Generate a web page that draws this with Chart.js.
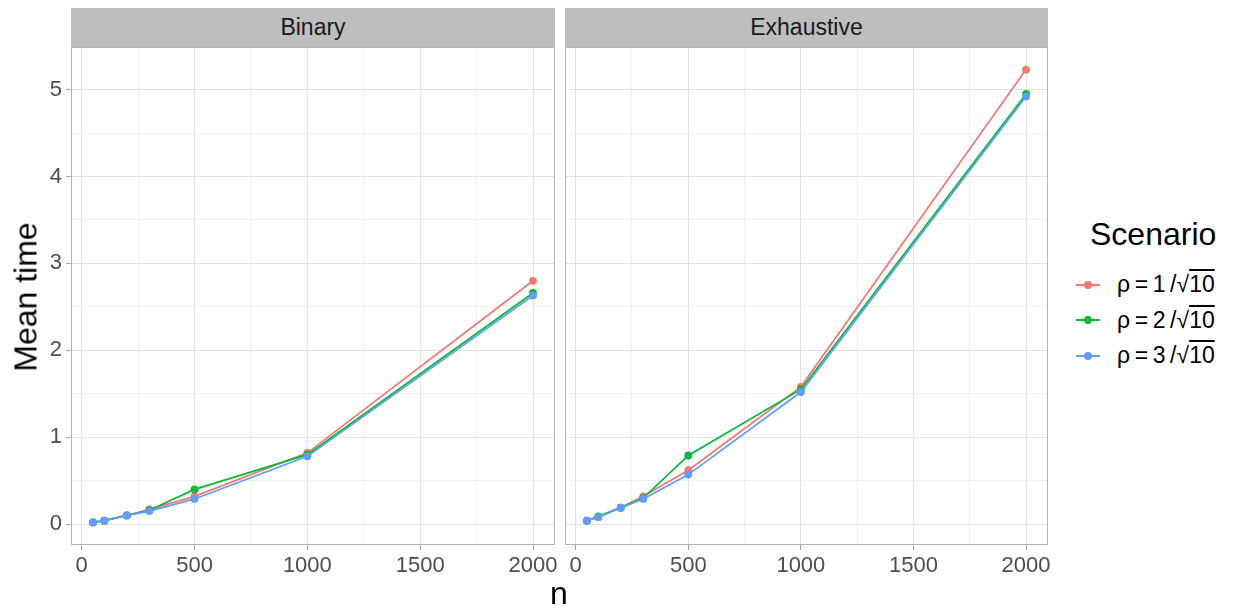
<!DOCTYPE html>
<html>
<head>
<meta charset="utf-8">
<script src="https://cdn.jsdelivr.net/npm/chart.js@4"></script>
<style>
  body { margin: 0; background: #fff; font-family: "Liberation Sans", Arial, sans-serif; }
  #wrap { position: relative; width: 1244px; height: 609px; overflow: hidden; }
  canvas { position: absolute; }
  .strip { position: absolute; top: 8px; height: 39px; background: #bebebe; color: #1a1a1a;
           font-size: 23px; line-height: 39px; text-align: center; }
  .title { position: absolute; color: #000; font-size: 32px; }
  #legend { position: absolute; left: 1072px; top: 216px; color: #000; }
  #legend .head { font-size: 32px; margin: 0 0 14px 18px; }
  #legend .item { display: flex; align-items: center; height: 35.5px; font-size: 23px; }
  #legend .key { position: relative; width: 28px; height: 20px; margin-right: 17px; }
  #legend .key i { position: absolute; left: 4px; right: 0; top: 9px; height: 2px; }
  #legend .key b { position: absolute; left: 12px; top: 6px; width: 8px; height: 8px; border-radius: 50%; }
  .ov { text-decoration: overline; }
</style>
</head>
<body>
<div id="wrap">
  <div class="strip" style="left:71px;width:484px;">Binary</div>
  <div class="strip" style="left:565px;width:483px;">Exhaustive</div>
  <canvas id="binary" width="560" height="540" style="left:0;top:47px;"></canvas>
  <canvas id="exhaustive" width="497" height="540" style="left:565px;top:47px;"></canvas>
  <div class="title" style="left:559px;top:575px;transform:translateX(-50%);">n</div>
  <div class="title" style="left:26px;top:297px;transform:translate(-50%,-50%) rotate(-90deg);white-space:nowrap;">Mean time</div>
  <div id="legend"></div>
</div>
<script>
const nValues = [50, 100, 200, 300, 500, 1000, 2000];
const scenarios = ['ρ = 1/√10', 'ρ = 2/√10', 'ρ = 3/√10'];
const colors = ['#F8766D', '#00BA38', '#619CFF'];

// Binary panel
const binaryRho1 = [0.02, 0.04, 0.10, 0.17, 0.32, 0.82, 2.80];
const binaryRho2 = [0.02, 0.04, 0.10, 0.16, 0.40, 0.80, 2.66];
const binaryRho3 = [0.02, 0.04, 0.10, 0.15, 0.29, 0.78, 2.63];

// Exhaustive panel
const exhaustRho1 = [0.04, 0.08, 0.19, 0.32, 0.62, 1.58, 5.23];
const exhaustRho2 = [0.04, 0.09, 0.19, 0.30, 0.79, 1.55, 4.95];
const exhaustRho3 = [0.04, 0.08, 0.19, 0.29, 0.57, 1.52, 4.92];

const xTicks = [0, 250, 500, 750, 1000, 1250, 1500, 1750, 2000];
const yTicks = [0, 0.5, 1, 1.5, 2, 2.5, 3, 3.5, 4, 4.5, 5];

const toPoints = (ys) => ys.map((y, i) => ({ x: nValues[i], y }));
const isMajor = (v) => Number.isInteger(v);

const panelBorder = {
    id: 'panelBorder',
    afterDraw(chart) {
        const a = chart.chartArea, c = chart.ctx;
        c.save();
        c.strokeStyle = '#b3b3b3';
        c.lineWidth = 1;
        c.strokeRect(a.left + 0.5, a.top + 0.5, a.right - a.left - 1, a.bottom - a.top - 1);
        c.restore();
    }
};

const makeChart = (id, series, showY, padRight) => {
    const ctx = document.getElementById(id).getContext('2d');
    return new Chart(ctx, {
        type: 'line',
        data: {
            datasets: series.map((ys, i) => ({
                label: scenarios[i],
                data: toPoints(ys),
                borderColor: colors[i],
                backgroundColor: colors[i],
                borderWidth: 1.7,
                pointRadius: 3.9,
                pointBorderWidth: 0,
                tension: 0,
                order: 3 - i
            }))
        },
        options: {
            responsive: false,
            animation: false,
            devicePixelRatio: 1,
            layout: { padding: { left: 0, top: 0, bottom: 0, right: padRight }, autoPadding: false },
            plugins: { legend: { display: false }, tooltip: { enabled: false } },
            scales: {
                x: {
                    type: 'linear',
                    min: -47.5,
                    max: 2097.5,
                    afterBuildTicks: (s) => { s.ticks = xTicks.map(v => ({ value: v })); },
                    afterFit: (s) => { s.height = 42; s.paddingLeft = 0; s.paddingRight = 0; },
                    border: { display: false },
                    grid: {
                        color: (c) => isMajor(c.tick.value / 500) ? '#e3e3e3' : '#f0f0f0',
                        tickColor: (c) => isMajor(c.tick.value / 500) ? '#a6a6a6' : 'rgba(0,0,0,0)',
                        tickLength: 5
                    },
                    ticks: {
                        autoSkip: false,
                        maxRotation: 0,
                        padding: 3,
                        color: '#4d4d4d',
                        font: { family: '"Liberation Sans", Arial, sans-serif', size: 22 },
                        callback: (v) => isMajor(v / 500) ? String(v) : ''
                    }
                },
                y: {
                    min: -0.24,
                    max: 5.49,
                    afterBuildTicks: (s) => { s.ticks = yTicks.map(v => ({ value: v })); },
                    afterFit: (s) => { s.width = showY ? 71 : 0; s.paddingTop = 0; s.paddingBottom = 0; },
                    border: { display: false },
                    grid: {
                        color: (c) => isMajor(c.tick.value) ? '#e3e3e3' : '#f0f0f0',
                        tickColor: (c) => showY && isMajor(c.tick.value) ? '#a6a6a6' : 'rgba(0,0,0,0)',
                        tickLength: showY ? 5 : 0
                    },
                    ticks: {
                        display: showY,
                        autoSkip: false,
                        padding: 4,
                        color: '#4d4d4d',
                        font: { family: '"Liberation Sans", Arial, sans-serif', size: 22 },
                        callback: (v) => isMajor(v) ? String(v) : ''
                    }
                }
            }
        },
        plugins: [panelBorder]
    });
};

makeChart('binary', [binaryRho1, binaryRho2, binaryRho3], true, 5);
makeChart('exhaustive', [exhaustRho1, exhaustRho2, exhaustRho3], false, 14);

// legend
const legend = document.getElementById('legend');
legend.innerHTML = '<div class="head">Scenario</div>' + scenarios.map((s, i) => {
    const num = s.split('/')[0].replace('ρ = ', '');
    return `<div class="item"><span class="key"><i style="background:${colors[i]}"></i><b style="background:${colors[i]}"></b></span>` +
        `<span>ρ\u2009=\u2009${num}\u2009/√<span class="ov">10</span></span></div>`;
}).join('');
</script>
</body>
</html>
